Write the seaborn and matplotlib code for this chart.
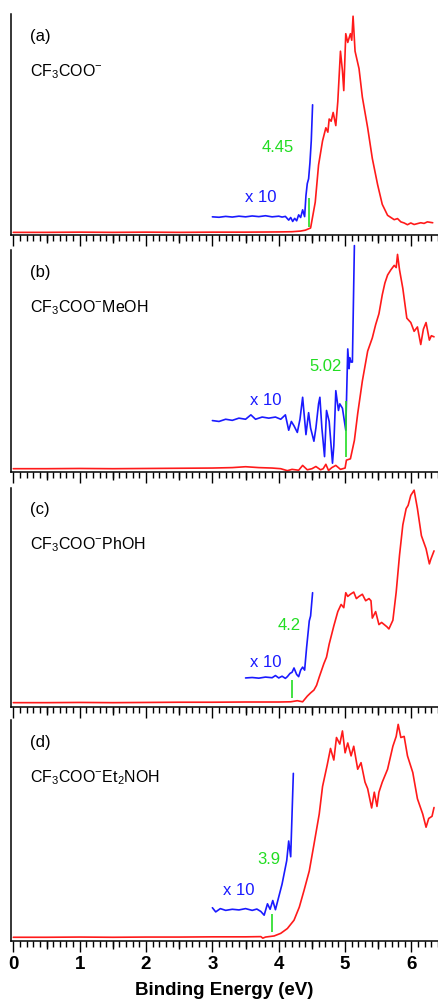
import numpy as np
import pandas as pd
import matplotlib
matplotlib.use("Agg")
import matplotlib.pyplot as plt
import seaborn as sns

# photoelectron spectra (intensity in % of panel height)
red_a_x = [0, 0.5, 1.0, 1.5, 2.0, 2.5, 3.0, 3.5, 4.0, 4.2, 4.33, 4.40, 4.48, 4.55, 4.60, 4.66, 4.71, 4.74,
           4.76, 4.79, 4.82, 4.86, 4.89, 4.93, 4.96, 4.98, 5.01, 5.04, 5.06, 5.08, 5.10, 5.12, 5.15, 5.21,
           5.26, 5.34, 5.41, 5.49, 5.56, 5.64, 5.69, 5.74, 5.79, 5.84, 5.89, 5.94, 5.99, 6.04, 6.09, 6.14,
           6.19, 6.24, 6.28, 6.32]
red_a_y = [1.2, 1.2, 1.3, 1.2, 1.3, 1.2, 1.3, 1.3, 1.4, 1.5, 1.8, 2.2, 3.2, 15, 32, 43, 49, 47,
           53, 52, 56, 50, 61, 84, 75, 66, 92, 88, 90, 92, 89, 100, 84, 76,
           63, 49, 35, 23, 14, 9, 8, 7, 7.5, 6, 5.5, 4.7, 5.5, 4.8, 5.2, 5.6,
           5.3, 6, 5.8, 5.6]
blue_a_x = [3.0, 3.1, 3.2, 3.3, 3.4, 3.5, 3.6, 3.7, 3.8, 3.9, 4.0, 4.05, 4.1, 4.15, 4.18, 4.21, 4.24,
            4.27, 4.30, 4.33, 4.36, 4.39, 4.41, 4.43, 4.45, 4.47, 4.49, 4.51]
blue_a_y = [8.3, 8.1, 8.5, 8.2, 8.6, 8.3, 8.7, 8.4, 8.8, 8.3, 8.6, 8.2, 8.5, 6.8, 8.0, 6.2, 7.6,
            6.5, 9.2, 8.0, 11.5, 8.4, 18, 23.5, 25.7, 33, 43, 59.5]

red_b_x = [0, 0.5, 1.0, 1.5, 2.0, 2.5, 3.0, 3.3, 3.5, 3.7, 3.9, 4.03, 4.13, 4.2, 4.3, 4.36, 4.43, 4.5,
           4.56, 4.63, 4.67, 4.71, 4.75, 4.8, 4.86, 4.93, 5.0, 5.02, 5.08, 5.14, 5.19, 5.26, 5.34, 5.41,
           5.46, 5.51, 5.56, 5.60, 5.64, 5.69, 5.74, 5.77, 5.79, 5.82, 5.87, 5.93, 5.99, 6.04, 6.09, 6.14,
           6.18, 6.22, 6.27, 6.30, 6.34]
red_b_y = [1.5, 1.5, 1.6, 1.5, 1.6, 1.7, 1.8, 2.0, 2.4, 2.0, 1.8, 1.5, 0.6, 1.2, 0.8, 3.0, 1.0, 1.5,
           2.5, 1.0, 1.5, 3.5, 0.7, 2.0, 3.0, 1.2, 1.8, 5.4, 6.0, 14.4, 26.6, 41.4, 55, 61,
           67, 72, 80.6, 86, 89.6, 92, 94, 93, 99, 92, 83.5, 70, 68, 64, 66, 58,
           65, 68, 60, 62, 61.5]
blue_b_x = [3.0, 3.1, 3.2, 3.3, 3.4, 3.5, 3.58, 3.65, 3.75, 3.85, 3.95, 4.03, 4.10, 4.15, 4.19, 4.23,
            4.28, 4.32, 4.36, 4.41, 4.45, 4.48, 4.53, 4.56, 4.60, 4.62, 4.65, 4.69, 4.72, 4.76, 4.81,
            4.83, 4.86, 4.90, 4.92, 4.96, 5.01, 5.04, 5.06, 5.07, 5.09, 5.11, 5.14]
blue_b_y = [23.4, 23, 24, 23.5, 24.5, 24, 26, 24, 25, 24.5, 25, 24, 26, 19, 23, 21,
            18, 24, 34, 17, 27, 20, 14, 20, 31, 34, 20, 7, 28, 23, 4,
            12, 37, 28, 31, 29, 19, 56, 47, 52, 50, 50, 103]

red_c_x = [0, 0.5, 1.0, 1.5, 2.0, 2.5, 3.0, 3.5, 4.0, 4.18, 4.28, 4.36, 4.43, 4.48, 4.53, 4.57, 4.61,
           4.68, 4.72, 4.76, 4.83, 4.89, 4.94, 4.98, 5.01, 5.04, 5.08, 5.13, 5.17, 5.21, 5.26, 5.31,
           5.36, 5.39, 5.41, 5.46, 5.51, 5.55, 5.59, 5.63, 5.66, 5.72, 5.77, 5.82, 5.87, 5.92, 5.95,
           5.99, 6.04, 6.09, 6.15, 6.22, 6.27, 6.29, 6.34]
red_c_y = [2.0, 2.0, 2.1, 2.0, 2.1, 2.2, 2.2, 2.3, 2.3, 2.4, 2.9, 2.4, 5, 6.5, 7.8, 10, 13.8,
           20, 23, 29, 37.4, 44, 47.3, 45.8, 52.7, 51, 52, 53, 50, 51, 52, 49,
           50, 49, 41, 44, 38, 39, 38, 37, 36, 40, 53, 70, 84, 91.5, 93,
           97.6, 100, 91.5, 79, 73, 66, 68, 72]
blue_c_x = [3.5, 3.6, 3.7, 3.8, 3.9, 3.95, 4.0, 4.05, 4.1, 4.13, 4.17, 4.2, 4.23, 4.27, 4.30, 4.33,
            4.36, 4.39, 4.42, 4.46, 4.48, 4.51]
blue_c_y = [13.4, 13.6, 13.3, 13.8, 13.5, 14.5, 13.4, 14.2, 13.2, 14.0, 15.5, 16, 18, 15, 14, 17,
            18.4, 17, 27.5, 39.7, 42, 52.7]

red_d_x = [0, 0.5, 1.0, 1.5, 2.0, 2.5, 3.0, 3.5, 3.73, 3.76, 3.8, 3.93, 4.03, 4.13, 4.23, 4.31, 4.38,
           4.46, 4.53, 4.61, 4.66, 4.73, 4.78, 4.83, 4.87, 4.92, 4.96, 5.0, 5.04, 5.09, 5.13, 5.19,
           5.24, 5.30, 5.34, 5.40, 5.44, 5.48, 5.51, 5.56, 5.64, 5.72, 5.77, 5.80, 5.84, 5.89, 5.94,
           6.02, 6.09, 6.17, 6.22, 6.26, 6.31, 6.34]
red_d_y = [1.7, 1.7, 1.8, 1.7, 1.8, 1.8, 1.9, 1.9, 2.0, 1.3, 1.8, 2.3, 3.5, 5.7, 9.5, 15.5, 23,
           32, 44, 58, 70.6, 80.4, 88, 82.7, 93, 90, 96, 86, 90.5, 84.6, 89, 78.5,
           81.5, 72.6, 69.6, 60.8, 68, 61.5, 68, 72.6, 78.5, 89, 93.5, 99, 93, 93.5, 84.6,
           77, 65, 58, 52, 56, 57, 61]
blue_d_x = [3.0, 3.05, 3.12, 3.2, 3.3, 3.4, 3.5, 3.6, 3.67, 3.73, 3.78, 3.83, 3.87, 3.91, 3.95, 3.99,
            4.05, 4.12, 4.15, 4.18, 4.22]
blue_d_y = [15.2, 13.3, 14.8, 14, 14.5, 14.2, 14.8, 14, 14.6, 13.5, 11.8, 17, 14.5, 18.5, 14.3, 19,
            26, 36.7, 45.7, 38.5, 76.6]

panel_tags = ["(a)", "(b)", "(c)", "(d)"]
species = [r"CF$_3$COO$^{-}$", r"CF$_3$COO$^{-}$MeOH", r"CF$_3$COO$^{-}$PhOH", r"CF$_3$COO$^{-}$Et$_2$NOH"]
onset_values = [4.45, 5.02, 4.2, 3.9]
onset_labels = ["4.45", "5.02", "4.2", "3.9"]
onset_y0 = [3.7, 7.0, 4.0, 4.2]
onset_y1 = [17.0, 32.4, 12.3, 12.5]
onset_text_pos = [(3.98, 40.0), (4.71, 48.0), (4.15, 37.4), (3.85, 37.4)]
x10_text_pos = [(3.73, 17.3), (3.81, 32.4), (3.81, 20.7), (3.40, 23.0)]

red_x = [red_a_x, red_b_x, red_c_x, red_d_x]
red_y = [red_a_y, red_b_y, red_c_y, red_d_y]
blue_x = [blue_a_x, blue_b_x, blue_c_x, blue_d_x]
blue_y = [blue_a_y, blue_b_y, blue_c_y, blue_d_y]

sns.set_style("ticks")
plt.rcParams["font.family"] = ["Liberation Sans", "DejaVu Sans"]
plt.rcParams["mathtext.fontset"] = "custom"
plt.rcParams["mathtext.rm"] = "Liberation Sans"
plt.rcParams["mathtext.it"] = "Liberation Sans:italic"
plt.rcParams["mathtext.bf"] = "Liberation Sans:bold"
plt.rcParams["text.color"] = "black"
plt.rcParams["axes.labelcolor"] = "black"
plt.rcParams["xtick.color"] = "black"
plt.rcParams["xtick.labelcolor"] = "black"

RED = "#ff1a1a"
BLUE = "#1a1aff"
GREEN = "#22dd22"

fig = plt.figure(figsize=(4.39, 9.99), dpi=100)

# axes boxes in pixels: (top, bottom)
boxes = [(14, 235), (250, 472), (488, 707), (720, 941)]
H = 999.0
axes = []
for top, bot in boxes:
    ax = fig.add_axes([11 / 439, 1 - bot / H, 427 / 439, (bot - top) / H])
    axes.append(ax)

for i, ax in enumerate(axes):
    red = pd.DataFrame({"x": red_x[i], "y": red_y[i]})
    blue = pd.DataFrame({"x": blue_x[i], "y": blue_y[i]})
    sns.lineplot(data=red, x="x", y="y", ax=ax, color=RED, lw=1.2, estimator=None, sort=False)
    sns.lineplot(data=blue, x="x", y="y", ax=ax, color=BLUE, lw=1.2, estimator=None, sort=False,
                 clip_on=False)
    ax.vlines(onset_values[i], onset_y0[i], onset_y1[i], color=GREEN, lw=1.2)

    ax.text(*onset_text_pos[i], onset_labels[i], color=GREEN, fontsize=12, ha="center", va="center")
    ax.text(*x10_text_pos[i], "x 10", color=BLUE, fontsize=12, ha="center", va="center")
    ax.text(0.045, 0.90, panel_tags[i], transform=ax.transAxes, fontsize=12, va="center", ha="left",
            color="black")
    ax.text(0.045, 0.74, species[i], transform=ax.transAxes, fontsize=11.5, va="center", ha="left",
            color="black")

    ax.set_xlim(-0.035, 6.4)
    ax.set_ylim(0, 101)
    ax.set_yticks([])
    ax.set_xticks(range(0, 7))
    ax.set_xticks(np.arange(0, 6.41, 0.1), minor=True)
    ax.tick_params(axis="x", which="major", length=8, width=1.0, direction="out", color="black")
    ax.tick_params(axis="x", which="minor", length=4, width=1.0, direction="out", color="black")
    sns.despine(ax=ax, top=True, right=True)
    for side in ["left", "bottom"]:
        ax.spines[side].set_linewidth(1.1)
        ax.spines[side].set_color("black")
    ax.set_ylabel("")
    ax.set_xlabel("")
    # half-unit ticks slightly longer
    sec = ax.secondary_xaxis("bottom")
    sec.set_xticks(np.arange(0.5, 6.4, 1.0))
    sec.set_xticklabels([])
    sec.tick_params(length=6, width=1.0, direction="out", color="black")
    sec.spines["bottom"].set_visible(False)
    if i < 3:
        ax.set_xticklabels([])

axes[-1].set_xticklabels([str(v) for v in range(0, 7)], fontsize=13.5, fontweight="bold", color="black")
axes[-1].tick_params(axis="x", which="major", pad=3)
axes[-1].set_xlabel("Binding Energy (eV)", fontsize=13.5, fontweight="bold", labelpad=6, color="black")

fig.savefig("out.png", dpi=100)
